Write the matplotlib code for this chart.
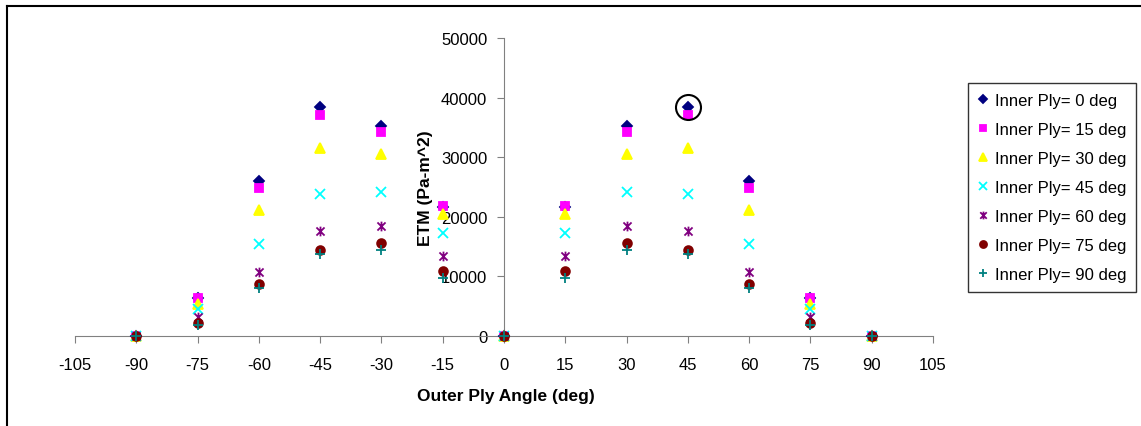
import matplotlib
matplotlib.use('Agg')
import matplotlib.pyplot as plt
from matplotlib.path import Path
from matplotlib.lines import Line2D

plt.rcParams['font.family'] = ['Liberation Sans', 'DejaVu Sans']
plt.rcParams['axes.unicode_minus'] = False

# outer ply angles and ETM values per inner ply angle
angles = [-90, -75, -60, -45, -30, -15, 0, 15, 30, 45, 60, 75, 90]
etm_0 = [0, 6400, 26000, 38500, 35200, 21600, 0, 21600, 35200, 38500, 26000, 6400, 0]
etm_15 = [0, 6300, 24900, 37100, 34300, 21800, 0, 21800, 34300, 37100, 24900, 6300, 0]
etm_30 = [0, 5300, 21100, 31500, 30500, 20400, 0, 20400, 30500, 31500, 21100, 5300, 0]
etm_45 = [0, 4500, 15400, 23800, 24100, 17200, 0, 17200, 24100, 23800, 15400, 4500, 0]
etm_60 = [0, 3250, 10700, 17600, 18500, 13400, 0, 13400, 18500, 17600, 10700, 3250, 0]
etm_75 = [0, 2250, 8700, 14500, 15600, 10900, 0, 10900, 15600, 14500, 8700, 2250, 0]
etm_90 = [0, 1800, 8000, 13700, 14400, 9700, 0, 9700, 14400, 13700, 8000, 1800, 0]
labels = ['Inner Ply= 0 deg', 'Inner Ply= 15 deg', 'Inner Ply= 30 deg',
          'Inner Ply= 45 deg', 'Inner Ply= 60 deg', 'Inner Ply= 75 deg',
          'Inner Ply= 90 deg']
x_ticks = list(range(-105, 106, 15))
y_ticks = [0, 10000, 20000, 30000, 40000, 50000]

# excel style star marker: x with a vertical bar
star = Path([(-1, -1), (1, 1), (-1, 1), (1, -1), (0, -1.2), (0, 1.2)],
            [Path.MOVETO, Path.LINETO, Path.MOVETO, Path.LINETO, Path.MOVETO, Path.LINETO])

series = [
    (etm_0, 'D', '#000080', 5),
    (etm_15, 's', '#ff00ff', 5.5),
    (etm_30, '^', '#ffff00', 7),
    (etm_45, 'x', '#00ffff', 7),
    (etm_60, star, '#800080', 7),
    (etm_75, 'o', '#800000', 6.3),
    (etm_90, '+', '#008080', 7),
]

fig = plt.figure(figsize=(11.41, 4.27), dpi=100)
ax = fig.add_axes([75/1141, 1-337/427, 858/1141, 298/427])

for (vals, mk, col, ms), lab in zip(series, labels):
    ax.plot(angles, vals, linestyle='none', marker=mk, color=col, ms=ms,
            mec=col, mew=1.3, label=lab, clip_on=False, zorder=3)

# highlight circle around max point
ax.plot([45], [38500], 'o', mfc='none', mec='black', ms=18, mew=1.5, clip_on=False, zorder=4)

ax.set_xlim(-105, 105)
ax.set_ylim(0, 50000)
ax.set_xticks(x_ticks)
ax.set_yticks(y_ticks)
ax.tick_params(labelsize=12, colors='#808080', labelcolor='black', length=5, direction='out')
ax.tick_params(axis='x', pad=10)
ax.tick_params(axis='y', pad=7)
ax.spines['left'].set_position(('data', 0))
ax.spines['right'].set_visible(False)
ax.spines['top'].set_visible(False)
ax.spines['left'].set_color('#808080')
ax.spines['bottom'].set_color('#808080')

ax.set_xlabel('Outer Ply Angle (deg)', fontsize=12.5, fontweight='bold', va='center')
ax.set_ylabel('ETM (Pa-m^2)', fontsize=12.5, fontweight='bold', va='center')
ax.xaxis.set_label_coords(0.502, -0.201)
ax.yaxis.set_label_coords(0.408, 0.5)

leg = ax.legend(loc='upper left', bbox_to_anchor=(968/1141, 1-84/427),
                bbox_transform=fig.transFigure, fontsize=12, frameon=True,
                fancybox=False, edgecolor='black', handlelength=0.6,
                handletextpad=0.4, labelspacing=0.84, borderpad=0.6,
                borderaxespad=0, markerscale=0.8)
leg.get_frame().set_linewidth(1.0)

# outer chart frame (left and top visible)
fig.add_artist(Line2D([7/1141, 7/1141], [0, 1-7/427], color='black', lw=1.5, transform=fig.transFigure))
fig.add_artist(Line2D([7/1141, 1], [1-7/427, 1-7/427], color='black', lw=1.5, transform=fig.transFigure))

fig.savefig('out.png', dpi=100)
